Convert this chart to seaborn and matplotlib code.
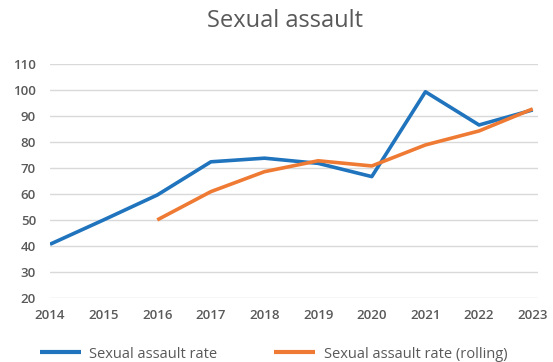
import numpy as np
import pandas as pd
import matplotlib
matplotlib.use("Agg")
import matplotlib.pyplot as plt
import seaborn as sns

years = [2014, 2015, 2016, 2017, 2018, 2019, 2020, 2021, 2022, 2023]
rate = [40.6, 50.0, 59.6, 72.4, 73.8, 71.8, 66.7, 99.4, 86.6, 92.4]
rolling = [np.nan, np.nan, 50.0, 60.9, 68.6, 72.8, 70.8, 78.9, 84.3, 92.8]
series_names = ["Sexual assault rate", "Sexual assault rate (rolling)"]
y_ticks = [20, 30, 40, 50, 60, 70, 80, 90, 100, 110]

df = pd.DataFrame({
    "year": years * 2,
    "value": rate + rolling,
    "series": [series_names[0]] * len(years) + [series_names[1]] * len(years),
})

sns.set_theme(style="white")
plt.rcParams["font.family"] = ["Open Sans", "DejaVu Sans"]

text_grey = "#595959"
fig = plt.figure(figsize=(5.53, 3.62), dpi=100)
ax = fig.add_axes([0.0904, 0.1776, 0.8816, 0.6448])

sns.lineplot(
    data=df.dropna(), x="year", y="value", hue="series",
    palette=["#1f74bd", "#ef7a33"], linewidth=2.6, ax=ax, legend=True,
    estimator=None, sort=True,
)
for line in ax.lines:
    line.set_solid_capstyle("butt")

ax.set_ylim(20, 110)
ax.set_xlim(2014, 2023.09)
ax.set_yticks(y_ticks)
ax.set_xticks(years)
ax.set_xticklabels([str(y) for y in years])
ax.yaxis.grid(True, color="#d9d9d9", linewidth=1.0)
ax.set_axisbelow(True)
for s in ax.spines.values():
    s.set_visible(False)
ax.set_xlabel("")
ax.set_ylabel("")
ax.tick_params(axis="both", length=0, labelsize=9.5, labelcolor=text_grey)
ax.tick_params(axis="y", pad=10)
ax.tick_params(axis="x", pad=8)
for lab in ax.get_xticklabels() + ax.get_yticklabels():
    lab.set_fontweight("semibold")

fig.suptitle("Sexual assault", x=0.515, y=0.975, fontsize=17, color=text_grey,
             va="top")

handles, labels = ax.get_legend_handles_labels()
ax.legend_.remove()
leg = fig.legend(handles, labels, loc="lower center", bbox_to_anchor=(0.495, -0.035),
                 ncol=2, frameon=False, fontsize=10.5, handlelength=2.8,
                 columnspacing=3.9, handletextpad=0.6)
for t in leg.get_texts():
    t.set_color(text_grey)
for h in leg.legend_handles:
    h.set_linewidth(3)

fig.savefig("out.png", dpi=100)
